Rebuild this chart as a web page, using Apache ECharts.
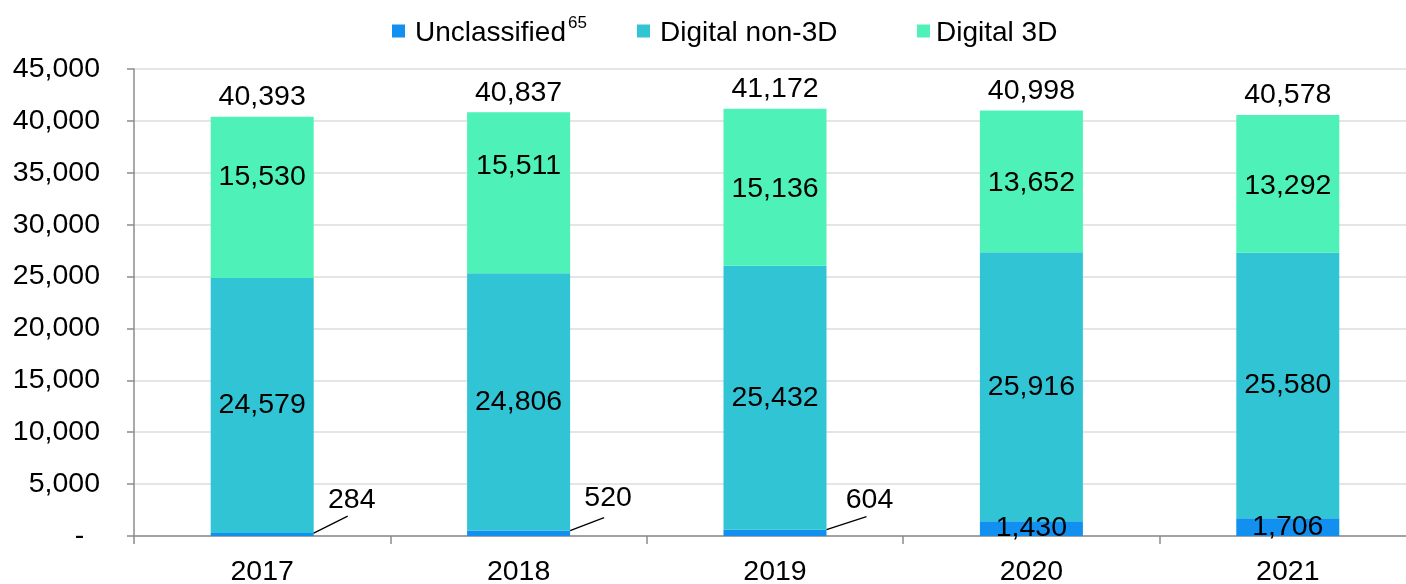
<!DOCTYPE html>
<html>
<head>
<meta charset="utf-8">
<script src="https://cdn.jsdelivr.net/npm/echarts@6/dist/echarts.min.js"></script>
<style>
  html, body { margin: 0; padding: 0; background: #fff; overflow: hidden; }
  /* plot runs slightly past the right edge of the window */
  #chart { width: 1420px; height: 584px; }
</style>
</head>
<body>
<div id="chart"></div>
<script>
// Screens by projection type, 2017–2021
const years = ['2017', '2018', '2019', '2020', '2021'];
const unclassified = [284, 520, 604, 1430, 1706];
const digitalNon3D = [24579, 24806, 25432, 25916, 25580];
const digital3D = [15530, 15511, 15136, 13652, 13292];

const FONT = "'Liberation Sans', Arial, sans-serif";
const FS = 28.5;
const BAR_W = 103;
const fmt = v => String(v).replace(/\B(?=(\d{3})+(?!\d))/g, ',');

const totals = years.map((_, i) => unclassified[i] + digitalNon3D[i] + digital3D[i]);

// vertical nudges for the 3D segment labels
const label3DShift = [-20, -27, 2, 2, 2];
// small unclassified values are labelled with a callout:
// [leader dx, leader dy, label dx, label dy] from the bar's top-right corner
const callout = [[34, -17, 38, -33], [34, -13, 38, -32], [40, -13, 43, -30], null, null];

const colors = { unc: '#1190F0', non3d: '#31C4D5', d3: '#4EF2B8' };

const labelBase = { color: '#000', fontSize: FS, fontFamily: FONT };
const textFont = FS + 'px ' + FONT;

function legendAt(left, name, formatter, gap) {
  return {
    left: left, top: 15, data: [name], icon: 'rect',
    itemWidth: 13, itemHeight: 13, itemGap: 0, padding: 0,
    textStyle: {
      color: '#000', fontSize: 28, fontFamily: FONT,
      rich: {
        n: { fontSize: 28, fontFamily: FONT, color: '#000', lineHeight: 32, padding: [4, 0, 0, gap] },
        s: { fontSize: 17, fontFamily: FONT, color: '#000', verticalAlign: 'top', lineHeight: 17, padding: [0, 0, 0, 2] }
      }
    },
    formatter: formatter || '{n|{name}}'
  };
}

const option = {
  animation: false,
  backgroundColor: '#fff',
  legend: [
    legendAt(392, 'Unclassified', '{n|Unclassified}{s|65}', 5),
    legendAt(637, 'Digital non-3D', null, 5),
    legendAt(917, 'Digital 3D', null, 1)
  ],
  grid: { left: 134, top: 69, right: 4, bottom: 48, containLabel: false, outerBoundsMode: 'none' },
  xAxis: {
    type: 'category',
    data: years,
    axisLine: { lineStyle: { color: '#8c8c8c', width: 1.5 } },
    axisTick: { show: true, length: 8, lineStyle: { color: '#8c8c8c', width: 1.5 } },
    axisLabel: { color: '#000', fontSize: FS, fontFamily: FONT, margin: 22 }
  },
  yAxis: {
    type: 'value',
    min: 0, max: 45000, interval: 5000,
    axisLine: { show: true, lineStyle: { color: '#8c8c8c', width: 1.5 } },
    axisTick: { show: true, length: 7, lineStyle: { color: '#8c8c8c', width: 1.5 } },
    splitLine: { lineStyle: { color: '#dcdcdc', width: 1.5 } },
    axisLabel: {
      color: '#000', fontSize: FS, fontFamily: FONT, margin: 34,
      formatter: v => (v === 0 ? '-  ' : fmt(v))
    }
  },
  series: [
    {
      name: 'Unclassified', type: 'bar', stack: 'screens', barWidth: BAR_W,
      itemStyle: { color: colors.unc },
      data: unclassified.map((v, i) => ({ value: v, label: { show: !callout[i] } })),
      label: { show: true, position: 'inside', ...labelBase, formatter: p => fmt(p.value) }
    },
    {
      name: 'Digital non-3D', type: 'bar', stack: 'screens', barWidth: BAR_W,
      itemStyle: { color: colors.non3d },
      data: digitalNon3D,
      label: { show: true, position: 'inside', ...labelBase, formatter: p => fmt(p.value) }
    },
    {
      name: 'Digital 3D', type: 'bar', stack: 'screens', barWidth: BAR_W,
      itemStyle: { color: colors.d3 },
      data: digital3D.map((v, i) => ({ value: v, label: { offset: [0, label3DShift[i]] } })),
      label: { show: true, position: 'inside', ...labelBase, formatter: p => fmt(p.value) }
    },
    {
      // callout labels with leader lines for the small unclassified counts
      name: 'Unclassified callout', type: 'custom', z: 6,
      data: unclassified.map((v, i) => [i, v]).filter(d => callout[d[0]]),
      renderItem: (params, api) => {
        const i = api.value(0);
        const v = api.value(1);
        const top = api.coord([i, v]);
        const c = callout[i];
        const x0 = top[0] + BAR_W / 2, y0 = top[1];
        return {
          type: 'group',
          children: [
            { type: 'line', shape: { x1: x0, y1: y0, x2: x0 + c[0], y2: y0 + c[1] },
              style: { stroke: '#000', lineWidth: 1.3 } },
            { type: 'text', x: x0 + c[2], y: y0 + c[3],
              style: { text: fmt(v), fill: '#000', font: textFont, align: 'center', verticalAlign: 'middle' } }
          ]
        };
      }
    },
    {
      // stack totals above each bar
      name: 'Total', type: 'custom', z: 6,
      data: totals.map((v, i) => [i, v]),
      renderItem: (params, api) => {
        const pt = api.coord([api.value(0), api.value(1)]);
        return {
          type: 'text', x: pt[0], y: pt[1] - 5,
          style: { text: fmt(api.value(1)), fill: '#000', font: textFont, align: 'center', verticalAlign: 'bottom' }
        };
      }
    }
  ]
};

echarts.init(document.getElementById('chart'), null, { renderer: 'canvas' }).setOption(option);
</script>
</body>
</html>
